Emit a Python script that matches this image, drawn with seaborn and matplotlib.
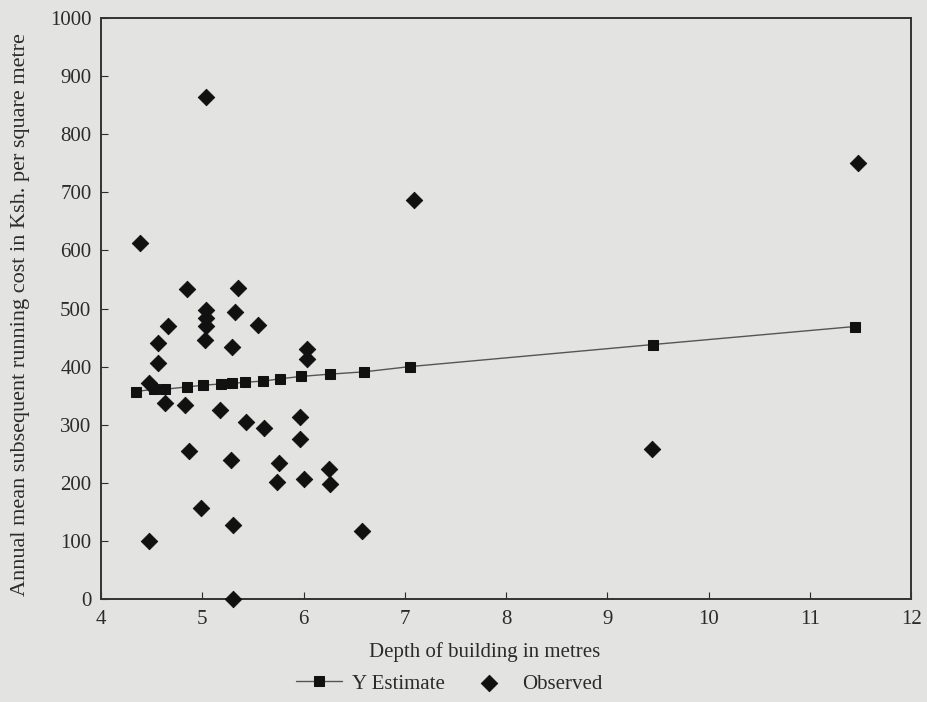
import matplotlib
matplotlib.use('Agg')
import matplotlib.pyplot as plt
import seaborn as sns
import pandas as pd

# ── Data ────────────────────────────────────────────────────────────────────
obs_x = [4.38, 4.85, 5.04, 7.09, 11.47, 5.35, 5.04, 5.04, 5.04, 5.03,
         5.32, 4.66, 5.55, 4.56, 4.56, 5.29, 6.03, 6.03, 4.47, 4.63,
         4.83, 5.17, 5.43, 5.61, 5.96, 5.96, 4.87, 5.28, 5.76, 5.74,
         6.00, 6.25, 6.26, 4.99, 5.30, 6.58, 4.47, 9.44, 5.30]
obs_y = [613, 533, 864, 687, 750, 535, 497, 483, 470, 445,
         494, 470, 472, 440, 407, 433, 431, 413, 371, 338,
         333, 325, 305, 294, 313, 275, 255, 239, 234, 201,
         207, 224, 197, 157, 127, 117, 99, 258, 0]

est_x = [4.34, 4.52, 4.63, 4.85, 5.01, 5.18, 5.29, 5.42, 5.60, 5.77,
         5.97, 6.26, 6.60, 7.05, 9.45, 11.44]
est_y = [357, 361, 361, 365, 368, 370, 371, 373, 375, 379,
         383, 387, 391, 400, 438, 469]

x_ticks = [4, 5, 6, 7, 8, 9, 10, 11, 12]
y_ticks = list(range(0, 1001, 100))

obs = pd.DataFrame({'depth': obs_x, 'cost': obs_y})
est = pd.DataFrame({'depth': est_x, 'cost': est_y})

# ── Style ───────────────────────────────────────────────────────────────────
sns.set_style('ticks')
plt.rcParams['font.family'] = ['Liberation Serif', 'DejaVu Serif']
bg = '#e3e3e1'
ink = '#2b2b2b'
plt.rcParams['text.color'] = ink
plt.rcParams['axes.labelcolor'] = ink
plt.rcParams['xtick.color'] = ink
plt.rcParams['ytick.color'] = ink

fig = plt.figure(figsize=(9.28, 7.02), dpi=100, facecolor=bg)
ax = fig.add_axes([0.109, 0.147, 0.873, 0.827])
ax.set_facecolor(bg)

sns.lineplot(data=est, x='depth', y='cost', ax=ax, sort=False, estimator=None,
             color='#555555', linewidth=1.0, marker='s', markersize=6.5,
             markerfacecolor='#111111', markeredgecolor='#111111',
             label='Y Estimate', legend=False, zorder=3)
sns.scatterplot(data=obs, x='depth', y='cost', ax=ax, marker='D', s=70,
                color='#111111', edgecolor='#111111', label='Observed',
                legend=False, zorder=4, clip_on=False)

ax.set_xlim(4, 12)
ax.set_ylim(0, 1000)
ax.set_xticks(x_ticks)
ax.set_yticks(y_ticks)
ax.tick_params(direction='in', length=5, width=0.8, labelsize=15)
ax.tick_params(axis='x', pad=8)
ax.tick_params(axis='y', pad=7)
for sp in ax.spines.values():
    sp.set_linewidth(1.4)
    sp.set_color('#333333')

ax.set_xlabel('Depth of building in metres', fontsize=15)
ax.xaxis.set_label_coords(0.473, -0.075)
ax.set_ylabel('Annual mean subsequent running cost in Ksh. per square metre',
              fontsize=16)
ax.yaxis.set_label_coords(-0.088, 0.49)

handles, labels = ax.get_legend_handles_labels()
fig.legend(handles, labels, loc='center', bbox_to_anchor=(0.484, 0.026),
           ncol=2, frameon=False, fontsize=15, handlelength=2.2,
           columnspacing=1.0, handletextpad=0.5)

fig.savefig('out.png', dpi=100, facecolor=bg)
